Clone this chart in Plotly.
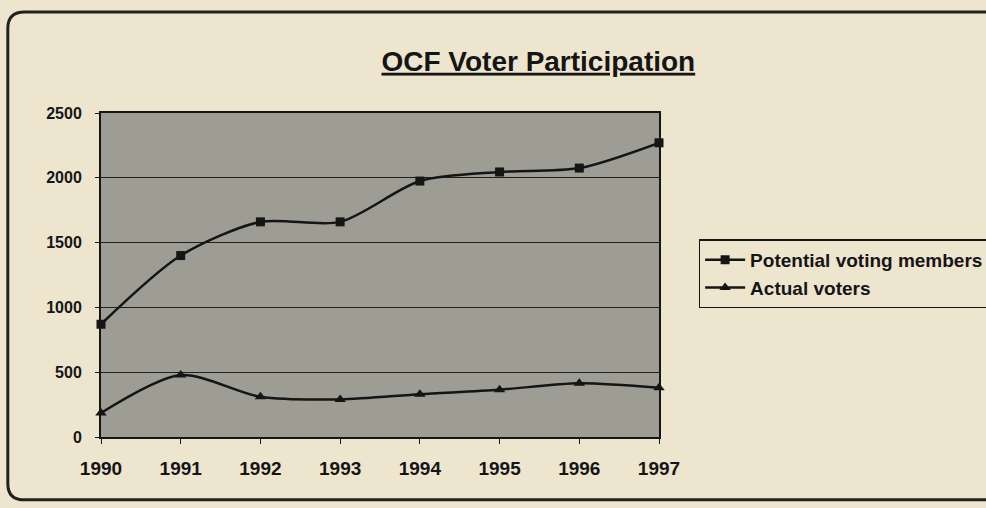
import plotly.graph_objects as go

years = [1990, 1991, 1992, 1993, 1994, 1995, 1996, 1997]
potential = [870, 1400, 1660, 1660, 1975, 2045, 2075, 2270]
actual = [185, 478, 310, 290, 330, 365, 415, 380]
y_ticks = [0, 500, 1000, 1500, 2000, 2500]

FONT = "Liberation Sans, Arial, sans-serif"
INK = "#151515"

fig = go.Figure()
fig.add_trace(go.Scatter(
    x=years, y=potential, name="<b>Potential voting members</b>",
    mode="lines+markers", line=dict(color=INK, width=2.5, shape="spline", smoothing=0.8),
    marker=dict(symbol="square", size=9, color=INK),
))
fig.add_trace(go.Scatter(
    x=years, y=actual, name="<b>Actual voters</b>",
    mode="lines+markers", line=dict(color=INK, width=2.5, shape="spline", smoothing=0.8),
    marker=dict(symbol="triangle-up", size=10, color=INK),
))

fig.update_layout(
    width=986, height=508,
    paper_bgcolor="#eee5cf",
    plot_bgcolor="#9e9d94",
    margin=dict(l=101, r=327, t=113, b=71, autoexpand=False),
    title=dict(text="<b><u>OCF Voter Participation</u></b>", x=0.546, xanchor="center",
               y=0.88, yanchor="middle",
               font=dict(family=FONT, size=28, color=INK)),
    legend=dict(x=1.071, y=0.61, xanchor="left", yanchor="top",
                bgcolor="#eee5cf", bordercolor=INK, borderwidth=1.5,
                font=dict(family=FONT, size=19, color=INK),
                tracegroupgap=0, itemwidth=40),
    showlegend=True,
)
fig.update_xaxes(
    range=[1990, 1997], tickvals=years, ticktext=["<b>%d</b>" % y for y in years],
    showgrid=False, showline=True, linecolor=INK, linewidth=2,
    ticks="outside", ticklen=5, tickcolor=INK, mirror=True, ticklabelstandoff=8,
    tickfont=dict(family=FONT, size=19, color=INK), zeroline=False, automargin=False,
)
fig.update_yaxes(
    range=[0, 2500], tickvals=y_ticks, ticktext=["<b>%d</b>" % v for v in y_ticks],
    showgrid=True, gridcolor="#1e1e1e", gridwidth=1.2,
    showline=True, linecolor=INK, linewidth=2, mirror=True,
    ticks="outside", ticklen=4, tickcolor=INK, ticklabelstandoff=10,
    tickfont=dict(family=FONT, size=16, color=INK), zeroline=False, automargin=False,
)

# rounded outer frame (paper coords relative to plot area: width ~558px, height 324px)
x0, x1, y0, y1 = -0.167, 1.66, -0.194, 1.312
rx, ry = 0.03, 0.05
path = (f"M {x0+rx},{y0} L {x1-rx},{y0} Q {x1},{y0} {x1},{y0+ry} "
        f"L {x1},{y1-ry} Q {x1},{y1} {x1-rx},{y1} L {x0+rx},{y1} "
        f"Q {x0},{y1} {x0},{y1-ry} L {x0},{y0+ry} Q {x0},{y0} {x0+rx},{y0} Z")
fig.add_shape(type="path", xref="paper", yref="paper", path=path,
              line=dict(color="#202020", width=3), layer="below")
fig.update_traces(cliponaxis=False)
fig.write_html("out.html", config={"displayModeBar": False},
               post_script="document.body.style.margin='0';document.body.style.overflow='hidden';")
